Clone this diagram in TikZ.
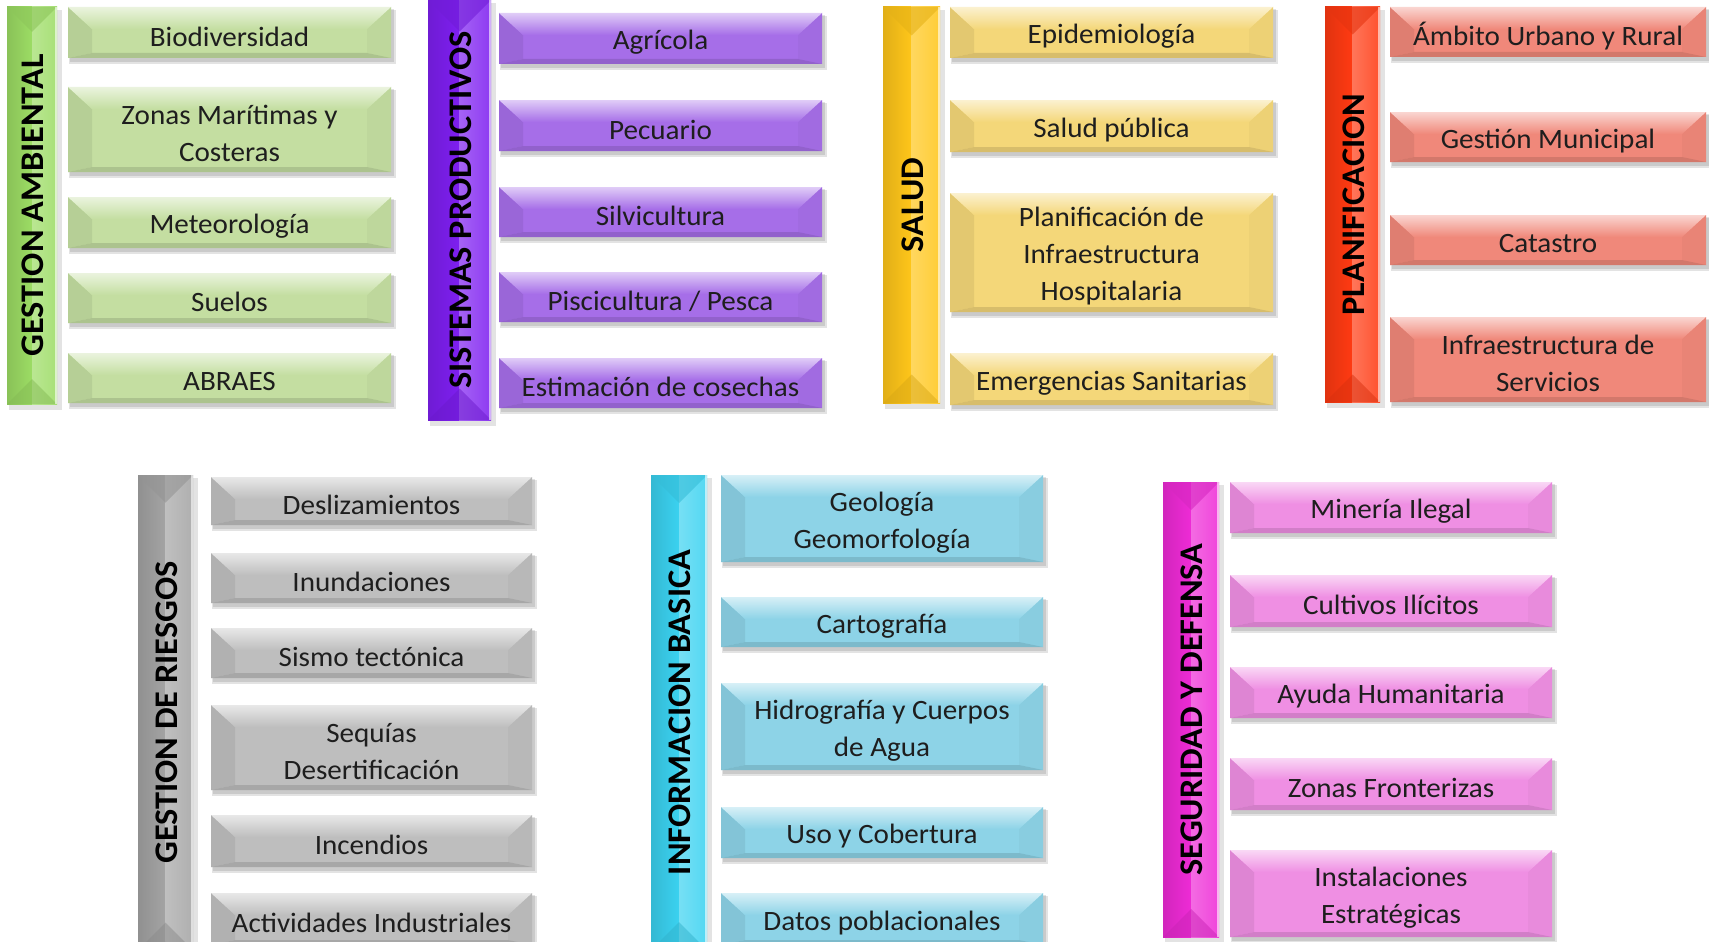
\documentclass[tikz,border=0pt]{standalone}
\usepackage{fontspec}
\setmainfont{Carlito}[FakeStretch=1.04]
\usetikzlibrary{calc}
\definecolor{gaB}{HTML}{9CDC64}\definecolor{gaI}{HTML}{C4DEA1}
\definecolor{spB}{HTML}{7E1FF0}\definecolor{spI}{HTML}{A66EE8}
\definecolor{saB}{HTML}{FFC61A}\definecolor{saI}{HTML}{F4D779}
\definecolor{plB}{HTML}{FF3A12}\definecolor{plI}{HTML}{F0887A}
\definecolor{grB}{HTML}{A4A4A4}\definecolor{grI}{HTML}{BEBEBE}
\definecolor{ibB}{HTML}{3BD2F0}\definecolor{ibI}{HTML}{8DD3E7}
\definecolor{sdB}{HTML}{EE2BD6}\definecolor{sdI}{HTML}{EF8FE3}
\definecolor{txt}{HTML}{1E1E1E}
\tikzset{
  itemtext/.style={inner sep=0pt, align=center, text=txt, font=\fontsize{28}{37}\selectfont},
  hdrtext/.style={inner sep=0pt, text=black, rotate=90, font=\fontsize{33}{38}\selectfont\bfseries},
  shadowfill/.style={black, opacity=0.11}
}
% bevelled item box: x0 y0 x1 y1 colour
\newcommand\bevbox[5]{%
  \fill[shadowfill] (#1+1,#2+3) rectangle (#3+5,#4+6);
  \fill[shadowfill] (#1+2,#2+2) rectangle (#3+3,#4+4);
  \fill[#5] (#1,#2) rectangle (#3,#4);
  \fill[#5!93!black] (#1,#2) -- (#1+24,#2+22) -- (#1+24,#4-5) -- (#1,#4) -- cycle;
  \fill[#5!97!black] (#3,#2) -- (#3-24,#2+22) -- (#3-24,#4-5) -- (#3,#4) -- cycle;
  \shade[top color=#5!35!white, bottom color=#5] (#1,#2) -- (#3,#2) -- (#3-24,#2+22) -- (#1+24,#2+22) -- cycle;
  \fill[#5!88!black] (#1,#4) -- (#1+24,#4-5) -- (#3-24,#4-5) -- (#3,#4) -- cycle;
}
% item: name x0 y0 x1 y1 colour text
\newcommand\itembox[7]{%
  \bevbox{#2}{#3}{#4}{#5}{#6}
  \node[itemtext] (#1) at ({(#2+#4)/2},{(#3+#5)/2+4}) {#7};
}
% header bar: name x0 y0 x1 y1 colour text
\newcommand\hdrbar[7]{%
  \fill[shadowfill] (#2+2,#3+3) rectangle (#4+5,#5+6);
  \shade[left color=#6!88!black, right color=#6] (#2,#3) rectangle ({(#2+#4)/2},#5);
  \shade[left color=#6!70!white, right color=#6!88!white] ({(#2+#4)/2},#3) rectangle (#4,#5);
  \fill[#6!90!black, opacity=.6] (#2,#3) -- (#4,#3) -- ({(#2+#4)/2},{#3+(#4-#2)/2}) -- cycle;
  \fill[#6!85!black, opacity=.5] (#2,#5) -- (#4,#5) -- ({(#2+#4)/2},{#5-(#4-#2)/2}) -- cycle;
  \draw[white, opacity=.6, line width=1.2pt] (#4-1,#3) -- (#4-1,#5);
  \node[hdrtext] (#1) at ({(#2+#4)/2+1},{(#3+#5)/2}) {#7};
}
\begin{document}
\begin{tikzpicture}[x=1pt,y=-1pt]
\useasboundingbox (0,0) rectangle (1709,942);
\fill[white] (0,0) rectangle (1709,942);
\clip (0,0) rectangle (1709,942);
% GESTION AMBIENTAL
\hdrbar{ga}{7}{7}{57}{404}{gaB}{GESTION AMBIENTAL}
\itembox{ga1}{68}{7}{391}{58}{gaI}{Biodiversidad}
\itembox{ga2}{68}{87}{391}{172}{gaI}{Zonas Marítimas y\\Costeras}
\itembox{ga3}{68}{197}{391}{248}{gaI}{Meteorología}
\itembox{ga4}{68}{273}{391}{323}{gaI}{Suelos}
\itembox{ga5}{68}{353}{391}{403}{gaI}{ABRAES}
% SISTEMAS PRODUCTIVOS
\hdrbar{sp}{428}{0}{491}{420}{spB}{SISTEMAS PRODUCTIVOS}
\itembox{sp1}{499}{13}{822}{64}{spI}{Agrícola}
\itembox{sp2}{499}{100}{822}{151}{spI}{Pecuario}
\itembox{sp3}{499}{187}{822}{237}{spI}{Silvicultura}
\itembox{sp4}{499}{272}{822}{322}{spI}{Piscicultura / Pesca}
\itembox{sp5}{499}{358}{822}{408}{spI}{Estimación de cosechas}
% SALUD
\hdrbar{sa}{883}{7}{940}{403}{saB}{SALUD}
\itembox{sa1}{950}{7}{1273}{58}{saI}{Epidemiología}
\itembox{sa2}{950}{100}{1273}{152}{saI}{Salud pública}
\itembox{sa3}{950}{193}{1273}{312}{saI}{Planificación de\\Infraestructura\\Hospitalaria}
\itembox{sa4}{950}{353}{1273}{405}{saI}{Emergencias Sanitarias}
% PLANIFICACION
\hdrbar{pl}{1325}{7}{1380}{402}{plB}{PLANIFICACION}
\itembox{pl1}{1390}{7}{1706}{57}{plI}{Ámbito Urbano y Rural}
\itembox{pl2}{1390}{112}{1706}{162}{plI}{Gestión Municipal}
\itembox{pl3}{1390}{215}{1706}{265}{plI}{Catastro}
\itembox{pl4}{1390}{317}{1706}{402}{plI}{Infraestructura de\\Servicios}
% GESTION DE RIESGOS
\hdrbar{gr}{138}{475}{193}{950}{grB}{GESTION DE RIESGOS}
\itembox{gr1}{211}{477}{532}{525}{grI}{Deslizamientos}
\itembox{gr2}{211}{553}{532}{603}{grI}{Inundaciones}
\itembox{gr3}{211}{628}{532}{678}{grI}{Sismo tectónica}
\itembox{gr4}{211}{705}{532}{790}{grI}{Sequías\\Desertificación}
\itembox{gr5}{211}{815}{532}{867}{grI}{Incendios}
\itembox{gr6}{211}{893}{532}{945}{grI}{Actividades Industriales}
% INFORMACION BASICA
\hdrbar{ib}{651}{475}{707}{950}{ibB}{INFORMACION BASICA}
\itembox{ib1}{721}{475}{1043}{562}{ibI}{Geología\\Geomorfología}
\itembox{ib2}{721}{597}{1043}{647}{ibI}{Cartografía}
\itembox{ib3}{721}{683}{1043}{770}{ibI}{Hidrografía y Cuerpos\\de Agua}
\itembox{ib4}{721}{807}{1043}{858}{ibI}{Uso y Cobertura}
\itembox{ib5}{721}{893}{1043}{945}{ibI}{Datos poblacionales}
% SEGURIDAD Y DEFENSA
\hdrbar{sd}{1163}{482}{1219}{937}{sdB}{SEGURIDAD Y DEFENSA}
\itembox{sd1}{1230}{482}{1552}{533}{sdI}{Minería Ilegal}
\itembox{sd2}{1230}{575}{1552}{627}{sdI}{Cultivos Ilícitos}
\itembox{sd3}{1230}{667}{1552}{718}{sdI}{Ayuda Humanitaria}
\itembox{sd4}{1230}{758}{1552}{810}{sdI}{Zonas Fronterizas}
\itembox{sd5}{1230}{850}{1552}{937}{sdI}{Instalaciones\\Estratégicas}
\end{tikzpicture}
\end{document}
